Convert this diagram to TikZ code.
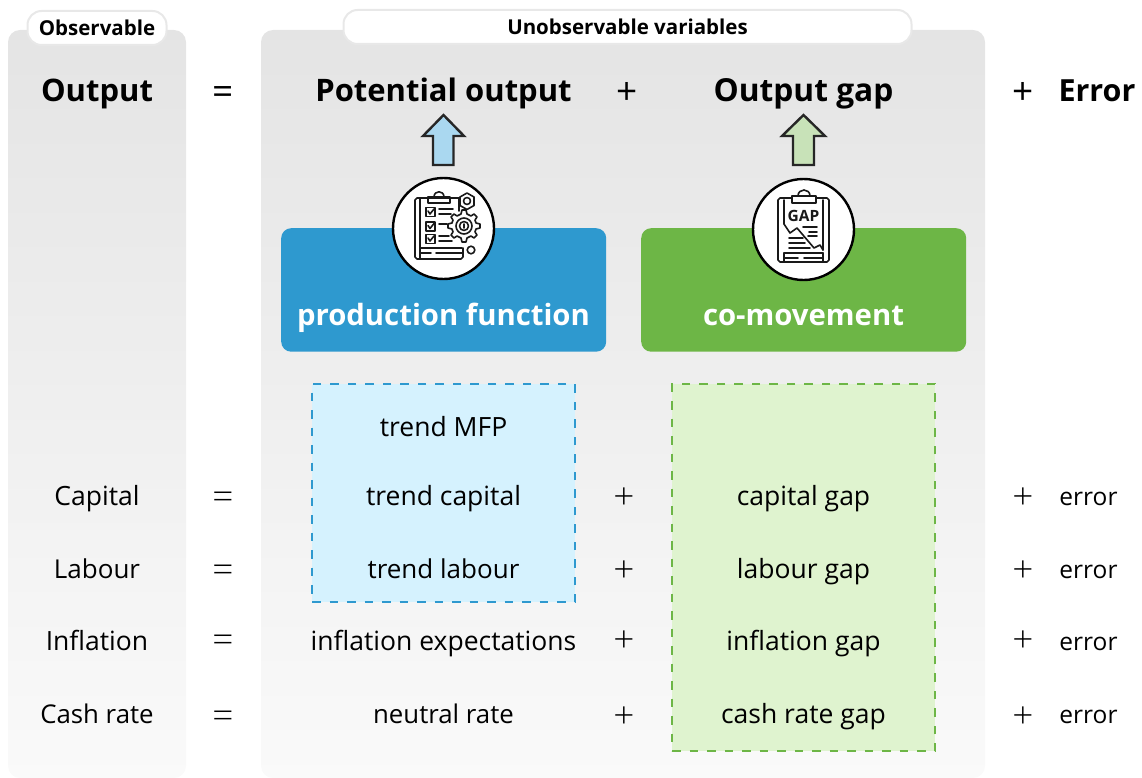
\documentclass[tikz,border=0pt]{standalone}
\usepackage{fontspec}
\setmainfont{Open Sans}
\newfontfamily\symfont{Open Sans Light}
\begin{document}
\begin{tikzpicture}[x=1pt,y=-1pt,
 panel/.style={rounded corners=12pt,top color=black!10.5,bottom color=black!2,draw=none},
 tag/.style={draw=black!9,line width=2pt,fill=white,rounded corners=14pt,minimum height=34pt,inner sep=0pt,font=\fontsize{20.5}{21}\selectfont\bfseries},
 big/.style={font=\fontsize{31}{31}\selectfont\bfseries,inner sep=0pt,anchor=base},
 sym/.style={font=\fontsize{37}{37}\selectfont\symfont,inner sep=0pt,anchor=base},
 topsym/.style={font=\fontsize{37}{37}\selectfont,inner sep=0pt,anchor=base},
 txt/.style={font=\fontsize{26.5}{27}\selectfont,inner sep=0pt,anchor=base},
 errtxt/.style={font=\fontsize{24.5}{25}\selectfont,inner sep=0pt,anchor=base},
 head/.style={rounded corners=10pt,minimum width=325pt,minimum height=123.5pt,inner sep=0pt,anchor=north west,text=white},
 headtxt/.style={font=\fontsize{29.3}{30}\selectfont\bfseries,text=white,inner sep=0pt,anchor=base},
 dbox/.style={dash pattern=on 8.5pt off 9pt,line width=1.6pt,inner sep=0pt,outer sep=0pt,anchor=north west},
 blockarrow/.style={draw=black!85,line width=2.4pt,miter limit=10},
 disc/.style={circle,draw=black,line width=2.4pt,fill=white,minimum size=101pt,inner sep=0pt,outer sep=0pt},
 ink/.style={draw=black!90,line width=1.6pt,line join=round,line cap=round}]
\useasboundingbox (0,0) rectangle (1142,778);
\definecolor{cblue}{HTML}{2E99CF}
\definecolor{cgreen}{HTML}{6DB646}
\definecolor{lblue}{HTML}{D5F2FE}
\definecolor{lgreen}{HTML}{DFF3CF}
\definecolor{ablue}{HTML}{AAD8F0}
\definecolor{agreen}{HTML}{C8E2B8}
\shade[panel] (8,30) rectangle (186,778);
\shade[panel] (261,30) rectangle (985,778);
\node[tag,minimum width=139pt] (obs) at (97,28) {Observable};
\node[tag,minimum width=568pt] (unobs) at (627.5,27) {Unobservable variables};
\node[big] (output) at (97,102) {Output};
\node[topsym] (eq0) at (223,104.5) {=};
\node[big] (potential) at (443.5,102) {Potential output};
\node[topsym] (pl0) at (627,104.5) {+};
\node[big,font=\fontsize{31.7}{32}\selectfont\bfseries] (gap) at (803.5,102) {Output gap};
\node[topsym] (pl1) at (1023,104.5) {+};
\node[big,font=\fontsize{30.5}{31}\selectfont\bfseries] (err) at (1097,102) {Error};
% dashed boxes
\node[dbox,draw=cblue,fill=lblue,minimum width=263pt,minimum height=218pt] (bbox) at (312,384) {};
\node[dbox,draw=cgreen,fill=lgreen,minimum width=263pt,minimum height=367pt] (gbox) at (672,384) {};
% headers
\node[head,fill=cblue] (pf) at (281,228) {};
\node[head,fill=cgreen] (cm) at (641,228) {};
\node[headtxt] (pft) at (443.5,325) {production function};
\node[headtxt] (cmt) at (803.5,325) {co-movement};
% arrows
\draw[blockarrow,fill=ablue] (443.5,115) -- (464,136) -- (453.5,136) -- (453.5,165) -- (433,165) -- (433,136) -- (423,136) -- cycle;
\draw[blockarrow,fill=agreen] (803.5,115) -- (825,136) -- (814,136) -- (814,165) -- (793,165) -- (793,136) -- (782,136) -- cycle;
% discs
\node[disc] (d1) at (443.5,228.5) {};
\node[disc] (d2) at (803.5,229.5) {};
% icon 1: checklist with gear
\begin{scope}[ink]
 \draw (460,198) -- (417,198) -- (415,200) -- (415,257) -- (417,259) -- (461,259) -- (463,257) -- (463,248);
 \draw (420,198) -- (420,259);
 \draw (459,198) -- (459,211);
 \draw (428,197) -- (428,203) -- (450,203) -- (450,197) -- cycle;
 \draw (434,197) .. controls (434,190) and (444,190) .. (444,197);
 \draw (421,248) -- (462,248) (421,253) -- (431,253) (436,253) -- (462,253);
 \draw (426,207.5) rectangle (435,216.5) (426,222) rectangle (435,231) (426,234.5) rectangle (435,243.5);
 \draw (428,211) -- (430,214) -- (434,209) (428,225.5) -- (430,228.5) -- (434,223.5) (428,238) -- (430,241) -- (434,236);
 \draw (439,209) -- (453,209) (439,214) -- (451,214) (439,224) -- (447,224) (439,236) -- (449,236) (439,241) -- (452,241);
 \begin{scope}[shift={(0,-2)}]
 \draw[fill=white] (462,212) -- (466,212) -- (467,216) -- (471,218) -- (474,216) -- (477,219) -- (475,222) -- (476,225) -- (480,226) -- (480,230) -- (476,231) -- (475,234) -- (477,237) -- (474,240) -- (471,238) -- (467,240) -- (466,244) -- (462,244) -- (461,240) -- (457,238) -- (454,240) -- (451,237) -- (453,234) -- (452,231) -- (448,230) -- (448,226) -- (452,225) -- (453,222) -- (451,219) -- (454,216) -- (457,218) -- (461,216) -- cycle;
 \draw (464,228) circle (8pt) (464,228) circle (4.5pt);
 \draw (464,226) -- (464,230);
 \end{scope}
 \draw[fill=white] (467,193) -- (474,197) -- (474,205.5) -- (467,209.5) -- (460,205.5) -- (460,197) -- cycle;
 \draw (467,201) circle (3.5pt);
 \draw (471,250) circle (3.8pt);
\end{scope}
% icon 2: gap clipboard
\begin{scope}[ink]
 \draw (792,198) -- (780,198) -- (778,200) -- (778,260) -- (780,262) -- (827,262) -- (829,260) -- (829,200) -- (827,198) -- (816,198);
 \draw (784,200) -- (784,224) (784,253) -- (784,262) (823,200) -- (823,250) (823,253) -- (823,262);
 \draw (792,196) -- (792,203) -- (816,203) -- (816,196) -- cycle;
 \draw (798,196) .. controls (798,188) and (810,188) .. (810,196);
 \draw (784,224) -- (790,233) -- (797,228) -- (814,248) -- (820,245) -- (823,250);
 \draw (803,227) -- (817,227) (809,232) -- (817,232) (808,236) -- (817,236);
 \draw (789,238) -- (803,238) (789,243) -- (805,243) (789,248) -- (810,248);
 \draw (784,253) -- (823,253) (784,258) -- (798,258) (804,258) -- (823,258);
\end{scope}
\node[font=\fontsize{15.5}{16}\selectfont\bfseries,text=black!90,inner sep=0pt] (gaptxt) at (803.5,216) {GAP};
% rows
\node[txt] (mfp) at (443.5,436) {trend MFP};
\foreach \nm/\y/\s/\fs/\a/\b/\c in {r1/505/509.5/26.5/Capital/trend capital/capital gap,r2/578/582.5/26/Labour/trend labour/labour gap,r3/650/652.5/26.5/Inflation/inflation expectations/inflation gap,r4/723/728.5/25.8/Cash rate/neutral rate/cash rate gap}{
 \node[txt,font=\fontsize{\fs}{27}\selectfont] (\nm a) at (97,\y) {\a};
 \node[sym] (\nm e) at (223,\s) {=};
 \node[txt,font=\fontsize{\fs}{27}\selectfont] (\nm b) at (443.5,\y) {\b};
 \node[sym] (\nm p) at (624,\s) {+};
 \node[txt] (\nm c) at (803.5,\y) {\c};
 \node[sym] (\nm q) at (1023,\s) {+};
 \node[errtxt] (\nm r) at (1088.5,\y) {error};
}
\end{tikzpicture}
\end{document}
